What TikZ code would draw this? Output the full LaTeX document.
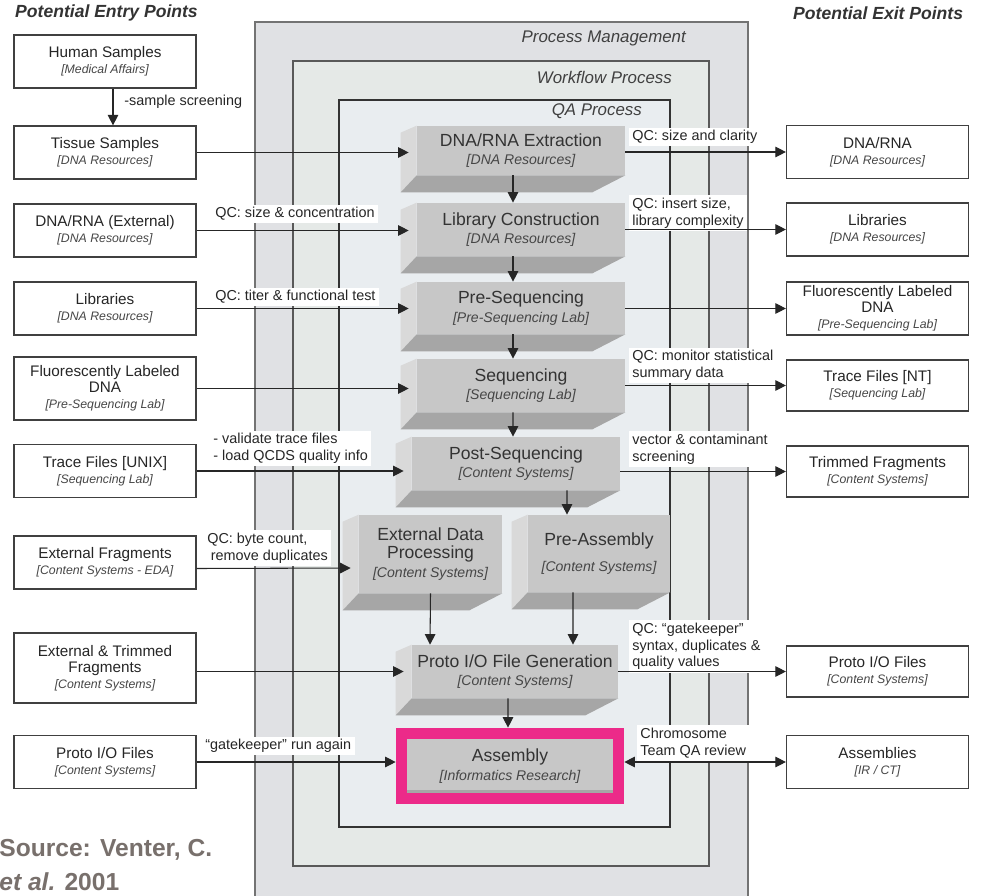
\documentclass[tikz,border=0pt]{standalone}
\usepackage{fontspec}
\setmainfont{Liberation Sans}
\usepackage{xcolor}
\usetikzlibrary{arrows.meta,calc,fit}

\definecolor{pmfill}{RGB}{224,225,228}
\definecolor{wffill}{RGB}{229,233,231}
\definecolor{qafill}{RGB}{233,237,240}
\definecolor{facegray}{RGB}{199,199,199}
\definecolor{sidegray}{RGB}{217,217,217}
\definecolor{botgray}{RGB}{166,166,166}
\definecolor{hlpink}{RGB}{236,42,137}
\definecolor{subtxt}{RGB}{70,70,70}
\definecolor{srcgray}{RGB}{120,112,108}

\newcommand{\subl}[1]{{\fontsize{7}{8}\selectfont\itshape\color{subtxt}#1}}
\newcommand{\psub}[1]{{\fontsize{8}{9.8}\selectfont\itshape\color{subtxt}#1}}
\newcommand{\bevel}[1]{%
  \fill[sidegray] (#1.north west) -- ++(-16,7) -- ($(#1.south west)+(-16,17)$) -- (#1.south west) -- cycle;
  \fill[botgray] (#1.south west) -- (#1.south east) -- ++(-33,17) -- ($(#1.south west)+(-16,17)$) -- cycle;}

\begin{document}
\begin{tikzpicture}[x=0.02cm,y=-0.02cm,
  entry/.style={draw=black!75,line width=0.7pt,fill=white,align=center,inner sep=0pt,
    minimum width=3.64cm,minimum height=1.06cm,text=black!85,font=\fontsize{8.7}{9.2}\selectfont},
  proc/.style={fill=facegray,align=center,inner sep=0pt,minimum width=4.16cm,minimum height=1.06cm,
    text=black!80,font=\fontsize{10}{10.4}\selectfont},
  qclbl/.style={fill=white,anchor=west,align=left,inner xsep=2pt,inner ysep=1.5pt,
    text=black!85,font=\fontsize{8.2}{9.5}\selectfont},
  framelbl/.style={anchor=east,text=black!75,font=\fontsize{9.6}{10}\selectfont\itshape},
  hdr/.style={anchor=west,text=black!80,font=\fontsize{10}{11}\selectfont\bfseries\itshape},
  flow/.style={draw=black!85,line width=0.6pt,-{Triangle[length=6pt,width=6pt]}},
  inflow/.style={flow,shorten >=0.16cm},
  dflow/.style={draw=black!85,line width=0.6pt,{Triangle[length=6pt,width=6pt]}-{Triangle[length=6pt,width=6pt]}}]

\useasboundingbox (0,0) rectangle (986,895);
\fill[white] (0,0) rectangle (986,895);

% nested process frames
\draw[draw=black!55,fill=pmfill,line width=0.9pt] (255,22) rectangle (748,905);
\draw[draw=black!65,fill=wffill,line width=0.9pt] (293,61) rectangle (709,866);
\draw[draw=black!80,fill=qafill,line width=0.8pt] (339,100) rectangle (670,827);
\node[framelbl] (pmlbl) at (692,38) {Process Management};
\node[framelbl] (wflbl) at (678,77) {Workflow Process};
\node[framelbl] (qalbl) at (648,111) {QA Process};

\node[hdr] (entryhdr) at (9,13) {Potential Entry Points};
\node[hdr] (exithdr) at (787,13) {Potential Exit Points};

% entry points
\node[entry] (human) at (105,61.5) {Human Samples\\\subl{[Medical Affairs]}};
\node[entry] (tissue) at (105,152.5) {Tissue Samples\\\subl{[DNA Resources]}};
\node[entry] (dnaext) at (105,230.5) {DNA/RNA (External)\\\subl{[DNA Resources]}};
\node[entry] (libs) at (105,308.5) {Libraries\\\subl{[DNA Resources]}};
\node[entry,minimum height=1.26cm] (fluor) at (105,388.5) {Fluorescently Labeled\\DNA\\\subl{[Pre-Sequencing Lab]}};
\node[entry] (trace) at (105,471) {Trace Files [UNIX]\\\subl{[Sequencing Lab]}};
\node[entry] (extfrag) at (105,562.5) {External Fragments\\\subl{[Content Systems - EDA]}};
\node[entry,minimum height=1.4cm] (exttrim) at (105,668) {External \& Trimmed\\Fragments\\\subl{[Content Systems]}};
\node[entry] (protoin) at (105,762) {Proto I/O Files\\\subl{[Content Systems]}};

% exit points
\node[entry] (xdna) at (877.5,152) {DNA/RNA\\\subl{[DNA Resources]}};
\node[entry] (xlib) at (877.5,229.5) {Libraries\\\subl{[DNA Resources]}};
\node[entry] (xfluor) at (877.5,308.5) {Fluorescently Labeled\\DNA\\\subl{[Pre-Sequencing Lab]}};
\node[entry,minimum height=1.02cm] (xtrace) at (877.5,385.5) {Trace Files [NT]\\\subl{[Sequencing Lab]}};
\node[entry,minimum height=1.02cm] (xtrim) at (877.5,471.5) {Trimmed Fragments\\\subl{[Content Systems]}};
\node[entry,minimum height=1.02cm] (xproto) at (877.5,671.5) {Proto I/O Files\\\subl{[Content Systems]}};
\node[entry] (xasm) at (877.5,762) {Assemblies\\\subl{[IR / CT]}};

% arrow labels
\node[qclbl,fill=none] (screen) at (120.5,102) {-sample screening};
\node[qclbl] (qcconc) at (211.5,214) {QC: size \& concentration};
\node[qclbl] (qctiter) at (211.5,297) {QC: titer \& functional test};
\node[qclbl] (qctrace) at (209.5,448.5) {- validate trace files\\- load QCDS quality info};
\node[qclbl] (qcbyte) at (203.5,548) {QC: byte count,\\\hspace{2pt}remove duplicates};
\node[qclbl] (qcgate) at (201.5,746) {“gatekeeper” run again};
\node[qclbl] (qcclar) at (628.5,137) {QC: size and clarity};
\node[qclbl] (qcinsert) at (628.5,213) {QC: insert size,\\library complexity};
\node[qclbl] (qcmon) at (628.5,365.5) {QC: monitor statistical\\summary data};
\node[qclbl] (qcvec) at (628.5,449) {vector \& contaminant\\screening};
\node[qclbl] (qcsyn) at (628.5,646.5) {QC: “gatekeeper”\\syntax, duplicates \&\\quality values};
\node[qclbl] (qcchrom) at (636.5,743) {Chromosome\\Team QA review};

% process steps
\node[proc,minimum height=0.98cm] (extr) at (521,150.5) {DNA/RNA Extraction\\\psub{[DNA Resources]}};
\node[proc] (lib) at (521,229.5) {Library Construction\\\psub{[DNA Resources]}};
\node[proc,minimum height=1.04cm] (preseq) at (521,308) {Pre-Sequencing\\\psub{[Pre-Sequencing Lab]}};
\node[proc] (seq) at (521,385.5) {Sequencing\\\psub{[Sequencing Lab]}};
\node[proc] (postseq) at (516,463.5) {Post-Sequencing\\\psub{[Content Systems]}};
\node[proc,minimum width=2.86cm,minimum height=1.56cm] (edp) at (430.5,554) {External Data\\Processing\\\psub{[Content Systems]}};
\node[proc,minimum width=2.84cm,minimum height=1.54cm] (preasm) at (599,553.5) {Pre-Assembly\\[4pt]\psub{[Content Systems]}};
\node[proc,minimum width=4.12cm] (protogen) at (515,671.5) {Proto I/O File Generation\\\psub{[Content Systems]}};
\node[proc,minimum width=4.12cm,minimum height=1.08cm] (asm) at (510,766) {Assembly\\\psub{[Informatics Research]}};
\bevel{extr}
\bevel{lib}
\bevel{preseq}
\bevel{seq}
\bevel{postseq}
\bevel{edp}
\bevel{preasm}
\bevel{protogen}
\fill[botgray] ([yshift=0.06cm]asm.south west) rectangle (asm.south east);
\node[draw=hlpink,line width=0.22cm,inner sep=0.11cm,fit=(asm)] (asmhl) {};

% entry arrows
\draw[flow] ([xshift=0.16cm]human.south) -- ([xshift=0.16cm]tissue.north);
\draw[inflow] (tissue.east) -- (tissue.east -| extr.west);
\draw[inflow] (dnaext.east) -- (dnaext.east -| lib.west);
\draw[inflow] (libs.east) -- (libs.east -| preseq.west);
\draw[inflow] (fluor.east) -- (fluor.east -| seq.west);
\draw[inflow] (trace.east) -- (trace.east -| postseq.west);
\draw[inflow] ([yshift=-0.12cm]extfrag.east) -- ([yshift=-0.28cm]edp.west);
\draw[inflow] (exttrim.east |- protogen.west) -- (protogen.west);
\draw[flow] (protoin.east) -- (protoin.east -| asmhl.west);

% exit arrows
\draw[flow] (extr.east |- xdna.west) -- (xdna.west);
\draw[flow] (lib.east |- xlib.west) -- (xlib.west);
\draw[flow] (preseq.east |- xfluor.west) -- (xfluor.west);
\draw[flow] (seq.east |- xtrace.west) -- (xtrace.west);
\draw[flow] (postseq.east |- xtrim.west) -- (xtrim.west);
\draw[flow] (protogen.east |- xproto.west) -- (xproto.west);
\draw[dflow] (asmhl.east |- xasm.west) -- (xasm.west);

% workflow arrows
\draw[flow] ([xshift=-0.16cm]extr.south) -- ([xshift=-0.16cm]lib.north);
\draw[flow] ([xshift=-0.16cm]lib.south) -- ([xshift=-0.16cm]preseq.north);
\draw[flow] ([xshift=-0.16cm]preseq.south) -- ([xshift=-0.16cm]seq.north);
\draw[flow] ([xshift=-0.16cm]seq.south) -- ([xshift=-0.06cm]postseq.north);
\draw[flow] ([xshift=1.02cm]postseq.south) -- ([xshift=-0.64cm]preasm.north);
\draw[flow] (edp.south) -- ([xshift=-1.7cm]protogen.north);
\draw[flow] ([xshift=-0.52cm]preasm.south) -- ([xshift=1.16cm]protogen.north);
\draw[flow] ([xshift=-0.14cm]protogen.south) -- ([xshift=-0.04cm]asmhl.north);

% source
\node[anchor=west,inner sep=0pt,text=srcgray,font=\fontsize{14}{16}\selectfont\bfseries] (src1) at (-1,850) {Source: Venter, C.};
\node[anchor=west,inner sep=0pt,text=srcgray,font=\fontsize{14}{16}\selectfont\bfseries] (src2) at (-1,882) {\itshape et al.\upshape{} 2001};

\end{tikzpicture}
\end{document}
